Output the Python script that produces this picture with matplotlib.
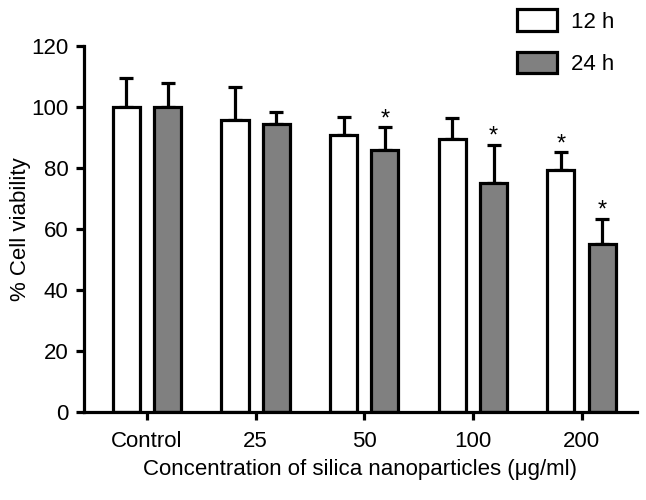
import numpy as np
import matplotlib
matplotlib.use("Agg")
import matplotlib.pyplot as plt

plt.rcParams['font.family'] = ['Liberation Sans', 'DejaVu Sans']

groups = ['Control', '25', '50', '100', '200']
mean_12h = [100, 95.8, 90.9, 89.4, 79.2]
err_12h = [9.4, 10.8, 5.7, 6.9, 5.9]
mean_24h = [100, 94.3, 86.0, 75.1, 55.2]
err_24h = [7.8, 4.1, 7.4, 12.6, 8.1]
star_12h = [False, False, False, False, True]
star_24h = [False, False, True, True, True]

lw = 2.3
fs = 16
fig = plt.figure(figsize=(6.46, 5.0), dpi=100)
ax = fig.add_axes([0.130, 0.176, 0.856, 0.732])

x = np.arange(len(groups))
w = 0.25
off = 0.19

b1 = ax.bar(x - off, mean_12h, w, color='white', edgecolor='black', linewidth=lw, label='12 h', zorder=2)
b2 = ax.bar(x + off, mean_24h, w, color='#808080', edgecolor='black', linewidth=lw, label='24 h', zorder=2)
ax.errorbar(x - off, mean_12h, yerr=[np.zeros(len(x)), err_12h], fmt='none', ecolor='black',
            elinewidth=lw, capsize=5, capthick=lw, zorder=1)
ax.errorbar(x + off, mean_24h, yerr=[np.zeros(len(x)), err_24h], fmt='none', ecolor='black',
            elinewidth=lw, capsize=5, capthick=lw, zorder=1)

for i in range(len(x)):
    if star_12h[i]:
        ax.text(x[i] - off, mean_12h[i] + err_12h[i] - 1.0, '*', ha='center', va='bottom', fontsize=17)
    if star_24h[i]:
        ax.text(x[i] + off, mean_24h[i] + err_24h[i] - 1.0, '*', ha='center', va='bottom', fontsize=17)

ax.set_xlim(-0.58, 4.51)
ax.set_ylim(0, 120)
ax.set_yticks(range(0, 121, 20))
ax.set_xticks(x)
ax.set_xticklabels(groups)
ax.spines['top'].set_visible(False)
ax.spines['right'].set_visible(False)
ax.spines['left'].set_linewidth(lw)
ax.spines['bottom'].set_linewidth(lw)
ax.tick_params(width=lw, length=6, labelsize=fs, direction='out', pad=5)
ax.tick_params(axis='x', pad=8)
ax.set_ylabel('% Cell viability', fontsize=fs)
ax.yaxis.set_label_coords(-0.095, 0.5)
ax.set_xlabel('Concentration of silica nanoparticles (\u03bcg/ml)', fontsize=fs)
ax.xaxis.set_label_coords(0.5, -0.128)

fig.legend(handles=[b1, b2], loc='upper left', bbox_to_anchor=(0.794, 0.99), frameon=False,
           fontsize=fs, handlelength=1.8, handleheight=1.1, labelspacing=0.85, handletextpad=0.6,
           borderpad=0.2, borderaxespad=0)

fig.savefig('out.png', dpi=100)
